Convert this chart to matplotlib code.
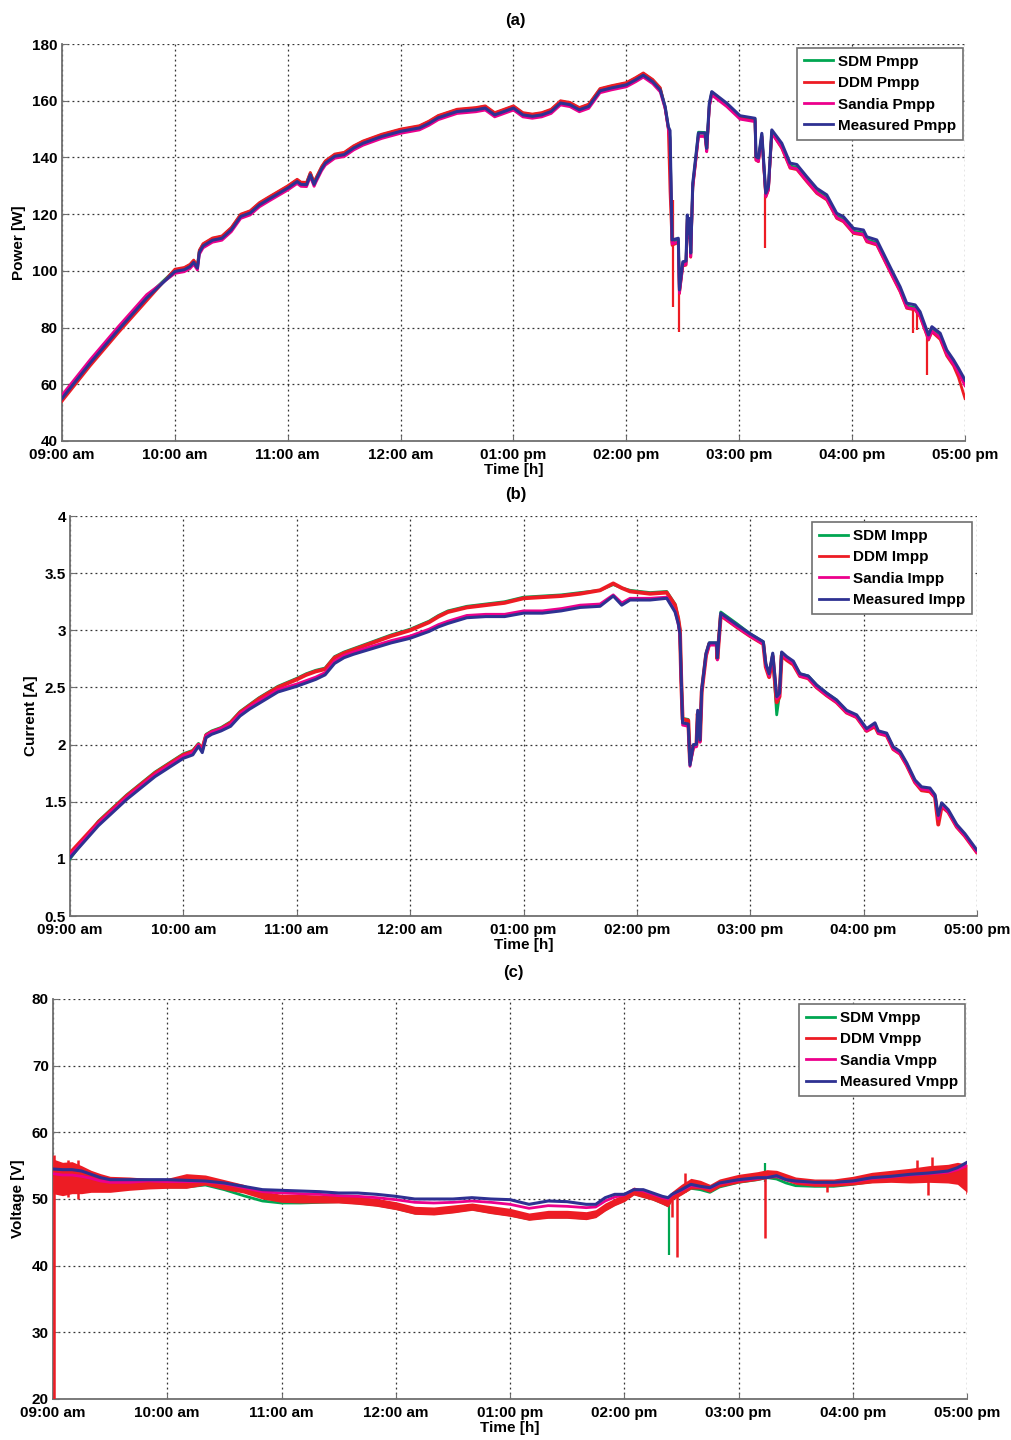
import numpy as np
import matplotlib
matplotlib.use('Agg')
import matplotlib.pyplot as plt
from matplotlib.lines import Line2D

plt.rcParams['font.family'] = ['Liberation Sans', 'DejaVu Sans']
plt.rcParams['font.weight'] = 'bold'

# ---------------- shared x axis ----------------
tick_hours = [9, 10, 11, 12, 13, 14, 15, 16, 17]
tick_labels = ['09:00 am', '10:00 am', '11:00 am', '12:00 am', '01:00 pm',
               '02:00 pm', '03:00 pm', '04:00 pm', '05:00 pm']

# ---------------- (a) Power, minutes after 09:00 ----------------
t_a = [0, 15, 30, 45, 60, 65, 68, 70, 72, 73, 75, 80, 85, 90, 95, 100, 105, 110, 120, 125,
       127, 130, 132, 134, 135, 138, 140, 145, 150, 155, 160, 170, 180, 190, 195, 200, 210, 220, 225, 230,
       240, 245, 250, 255, 260, 265, 270, 275, 280, 286, 292, 300, 305, 309, 314, 318, 320.6, 322.3, 323.2, 324.3,
       327.6, 328.2, 330, 331.7, 332.4, 333, 333.5, 334.2, 335.3, 337, 338.3, 341.8, 342.7, 344.1, 345.4, 353.4, 360.4, 368.4, 368.9, 370.2,
       372, 374.1, 375.5, 377.3, 382.6, 387, 390.6, 395.9, 401.2, 406.5, 411.8, 415.4, 420.7, 426, 427.8, 433.1, 437.5, 441.9, 445.5, 449,
       453.5, 456.1, 460.6, 462.4, 466.8, 470.3, 473.9, 476.5, 480]
meas_p = [55.0, 67.5, 79.2, 90.4, 99.8, 100.4, 101.5, 103.0, 101.0, 106.5, 108.8, 110.8, 111.5, 114.5, 119.2, 120.4, 123.3, 125.3, 129.2, 131.5,
          130.5, 130.4, 133.9, 130.5, 132.0, 136.0, 138.0, 140.4, 141.0, 143.3, 145.0, 147.4, 149.2, 150.4, 152.0, 154.0, 156.2, 156.8, 157.4, 155.0,
          157.4, 155.0, 154.5, 155.0, 156.2, 159.2, 158.6, 156.8, 158.0, 163.5, 164.5, 165.6, 167.4, 169.0, 166.7, 163.8, 157.9, 150.8, 149.5, 110.9,
          111.5, 93.3, 103.2, 103.5, 119.7, 113.2, 118.5, 106.3, 130.9, 140.9, 148.6, 148.6, 143.2, 159.1, 163.2, 159.1, 154.7, 153.8, 140.3, 139.8,
          148.5, 127.4, 129.7, 149.7, 145.0, 138.0, 137.5, 133.2, 129.1, 126.8, 120.3, 119.1, 115.0, 114.4, 112.0, 110.9, 105.0, 99.1, 94.4, 88.6,
          88.0, 85.6, 77.4, 80.3, 78.0, 72.1, 68.6, 65.7, 61.5]
sdm_p = [55.5, 68.0, 79.7, 90.9, 100.3, 101.0, 102.1, 103.6, 101.6, 107.1, 109.4, 111.4, 112.1, 115.1, 119.8, 121.0, 123.9, 125.9, 129.8, 132.1,
         131.1, 131.0, 134.5, 131.1, 132.6, 136.6, 138.6, 141.0, 141.6, 143.9, 145.6, 148.0, 149.8, 151.0, 152.6, 154.6, 156.8, 157.4, 158.0, 155.6,
         158.0, 155.6, 155.1, 155.6, 156.8, 159.8, 159.2, 157.4, 158.6, 164.1, 165.1, 166.2, 168.0, 169.6, 167.3, 164.4, 157.9, 150.8, 147.0, 110.0,
         111.0, 93.0, 102.7, 103.0, 119.2, 112.7, 118.0, 105.8, 130.4, 140.4, 148.9, 148.8, 143.0, 158.6, 163.0, 158.8, 154.4, 153.6, 139.8, 139.3,
         148.0, 126.9, 129.2, 149.2, 144.2, 137.0, 136.5, 132.2, 128.1, 125.8, 119.3, 118.1, 114.0, 113.4, 111.0, 109.9, 104.0, 98.1, 93.4, 87.6,
         87.0, 84.6, 76.4, 79.3, 77.0, 71.1, 67.6, 64.7, 60.5]
ddm_p = [54.0, 66.5, 78.2, 89.4, 100.6, 101.2, 102.3, 103.8, 101.8, 107.3, 109.6, 111.6, 112.3, 115.3, 120.0, 121.2, 124.1, 126.1, 130.0, 132.3,
         131.3, 131.2, 134.7, 131.3, 132.8, 136.8, 138.8, 141.2, 141.8, 144.1, 145.8, 148.2, 150.0, 151.2, 152.8, 154.8, 157.0, 157.6, 158.2, 155.8,
         158.2, 155.8, 155.3, 155.8, 157.0, 160.0, 159.4, 157.6, 158.8, 164.3, 165.3, 166.4, 168.2, 169.8, 167.5, 164.6, 157.4, 150.0, 128.0, 109.0,
         110.0, 92.0, 101.7, 102.0, 118.2, 111.7, 117.0, 104.8, 129.4, 139.4, 147.6, 147.6, 142.2, 158.1, 162.7, 158.3, 153.9, 153.0, 139.0, 138.5,
         147.5, 126.0, 128.5, 148.7, 143.2, 136.2, 135.7, 131.4, 127.3, 125.0, 118.5, 117.3, 113.2, 112.6, 110.2, 109.1, 103.2, 97.3, 92.6, 86.8,
         86.2, 83.8, 75.6, 78.5, 75.8, 70.0, 66.5, 62.5, 55.0]
sandia_p = [56.2, 68.7, 80.4, 91.6, 99.1, 99.7, 100.8, 102.3, 100.3, 105.8, 108.1, 110.1, 110.8, 113.8, 118.5, 119.7, 122.6, 124.6, 128.5, 130.8,
            129.8, 129.7, 133.2, 129.8, 131.3, 135.3, 137.3, 139.7, 140.3, 142.6, 144.3, 146.7, 148.5, 149.7, 151.3, 153.3, 155.5, 156.1, 156.7, 154.3,
            156.7, 154.3, 153.8, 154.3, 155.5, 158.5, 157.9, 156.1, 157.3, 162.8, 163.8, 164.9, 166.7, 168.3, 166.0, 163.1, 157.2, 150.2, 146.0, 109.5,
            110.3, 92.1, 102.0, 102.3, 118.5, 112.0, 117.3, 105.1, 129.7, 139.7, 147.4, 147.4, 142.0, 157.9, 162.0, 157.9, 153.5, 152.6, 139.1, 138.6,
            147.3, 126.2, 128.5, 148.5, 143.5, 136.5, 136.0, 131.7, 127.6, 125.3, 118.8, 117.6, 113.5, 112.9, 110.5, 109.4, 103.5, 97.6, 92.9, 87.1,
            86.5, 84.1, 75.9, 78.8, 76.5, 70.6, 67.1, 64.2, 59.5]
# DDM short spikes (time, low, high)
ddm_p_spk_t = [324.6, 328.2, 373.7, 452.6, 454.4, 459.7]
ddm_p_spk_lo = [87.4, 78.6, 108.0, 78.0, 79.2, 63.3]
ddm_p_spk_hi = [125.0, 100.0, 127.0, 87.0, 86.0, 77.0]

# ---------------- (b) Current ----------------
t_b = [0, 15, 30, 45, 60, 65, 68, 70, 72, 75, 80, 85, 90, 95, 100, 105, 110, 120, 125, 130,
       135, 140, 145, 150, 160, 170, 180, 190, 195, 200, 210, 220, 230, 240, 250, 260, 270, 280.5, 287.5, 292,
       296.4, 307, 315.8, 320.2, 321.9, 322.8, 323.5, 324.2, 327.2, 328.1, 329.9, 331.5, 332.2, 333.4, 334.3, 336.6, 338.3, 342.2, 342.6, 344.4,
       352.8, 359.9, 366.9, 368.2, 370, 371.9, 374.0, 375.5, 376.6, 379.3, 382.8, 386.3, 390.7, 395.2, 400.5, 405.7, 411.0, 416.3, 421.6, 426.0,
       427.8, 432.2, 435.7, 439.3, 442.8, 447.2, 450.7, 455.1, 457.8, 459.5, 461.3, 464.8, 469.3, 473.6, 479.8]
meas_i = [1.01, 1.29, 1.52, 1.72, 1.88, 1.91, 1.985, 1.93, 2.06, 2.09, 2.12, 2.16, 2.25, 2.31, 2.36, 2.41, 2.46, 2.51, 2.54, 2.57,
          2.61, 2.71, 2.76, 2.79, 2.84, 2.89, 2.93, 2.99, 3.03, 3.06, 3.11, 3.12, 3.12, 3.15, 3.15, 3.17, 3.20, 3.21, 3.30, 3.22,
          3.265, 3.265, 3.28, 3.16, 3.06, 2.97, 2.57, 2.19, 2.18, 1.82, 2.00, 2.00, 2.30, 2.04, 2.48, 2.80, 2.89, 2.89, 2.76, 3.15,
          3.05, 2.97, 2.90, 2.71, 2.62, 2.80, 2.42, 2.45, 2.81, 2.77, 2.73, 2.62, 2.60, 2.52, 2.45, 2.39, 2.30, 2.26, 2.14, 2.19,
          2.12, 2.10, 1.98, 1.94, 1.84, 1.69, 1.63, 1.62, 1.56, 1.38, 1.49, 1.43, 1.30, 1.22, 1.08]
sdm_i = [1.00, 1.33, 1.56, 1.76, 1.92, 1.95, 2.01, 1.97, 2.09, 2.12, 2.15, 2.20, 2.29, 2.35, 2.41, 2.46, 2.51, 2.58, 2.62, 2.65,
         2.67, 2.77, 2.81, 2.84, 2.90, 2.96, 3.01, 3.08, 3.13, 3.17, 3.21, 3.23, 3.25, 3.29, 3.30, 3.31, 3.33, 3.35, 3.40, 3.37,
         3.35, 3.33, 3.34, 3.23, 3.11, 3.01, 2.56, 2.23, 2.22, 1.86, 1.99, 2.00, 2.28, 2.04, 2.47, 2.79, 2.89, 2.89, 2.76, 3.16,
         3.06, 2.97, 2.90, 2.70, 2.61, 2.79, 2.26, 2.44, 2.80, 2.76, 2.72, 2.62, 2.60, 2.52, 2.45, 2.39, 2.29, 2.25, 2.13, 2.18,
         2.11, 2.09, 1.97, 1.93, 1.83, 1.68, 1.61, 1.60, 1.55, 1.33, 1.47, 1.42, 1.29, 1.21, 1.07]
ddm_i = [1.05, 1.32, 1.55, 1.75, 1.91, 1.94, 2.00, 1.96, 2.08, 2.11, 2.14, 2.19, 2.28, 2.34, 2.40, 2.45, 2.50, 2.57, 2.61, 2.64,
         2.66, 2.76, 2.80, 2.83, 2.89, 2.95, 3.00, 3.07, 3.12, 3.16, 3.20, 3.22, 3.24, 3.28, 3.29, 3.30, 3.32, 3.35, 3.41, 3.37,
         3.34, 3.32, 3.33, 3.22, 3.10, 3.00, 2.55, 2.22, 2.21, 1.85, 1.98, 1.99, 2.27, 2.03, 2.46, 2.78, 2.88, 2.88, 2.75, 3.13,
         3.03, 2.95, 2.88, 2.68, 2.59, 2.77, 2.37, 2.42, 2.78, 2.74, 2.70, 2.60, 2.58, 2.50, 2.43, 2.37, 2.28, 2.24, 2.12, 2.16,
         2.10, 2.08, 1.96, 1.92, 1.82, 1.67, 1.60, 1.59, 1.54, 1.30, 1.46, 1.41, 1.28, 1.20, 1.06]
sandia_i = [1.03, 1.31, 1.54, 1.74, 1.90, 1.93, 2.00, 1.95, 2.08, 2.11, 2.14, 2.18, 2.27, 2.33, 2.38, 2.43, 2.48, 2.53, 2.56, 2.59,
            2.63, 2.73, 2.78, 2.81, 2.86, 2.91, 2.95, 3.01, 3.05, 3.08, 3.13, 3.14, 3.14, 3.17, 3.17, 3.19, 3.22, 3.23, 3.31, 3.24,
            3.28, 3.28, 3.29, 3.17, 3.05, 2.95, 2.55, 2.17, 2.16, 1.81, 1.98, 1.98, 2.28, 2.02, 2.46, 2.78, 2.87, 2.87, 2.74, 3.13,
            3.03, 2.95, 2.88, 2.69, 2.60, 2.78, 2.40, 2.43, 2.79, 2.75, 2.71, 2.60, 2.58, 2.50, 2.43, 2.37, 2.28, 2.24, 2.12, 2.17,
            2.10, 2.08, 1.96, 1.92, 1.82, 1.67, 1.61, 1.60, 1.54, 1.35, 1.47, 1.41, 1.28, 1.20, 1.06]

# ---------------- (c) Voltage ----------------
t_c = [0, 5, 10, 15, 20, 25, 30, 40, 50, 60, 70, 80, 90, 100, 110, 120, 130, 140, 150, 160,
       170, 180, 190, 200, 210, 220, 230, 240, 250, 260, 270, 280, 285, 290, 295, 300, 305, 310, 315, 320,
       323, 325, 330, 335, 340, 345, 350, 360, 370, 375, 380, 385, 390, 400, 410, 420, 430, 440, 450, 460,
       470, 475, 480]
meas_v = [54.5, 54.4, 54.4, 54.2, 53.7, 53.2, 52.9, 52.9, 52.9, 52.9, 52.8, 52.7, 52.4, 51.9, 51.4, 51.3, 51.2, 51.1, 50.9, 50.9,
          50.7, 50.4, 50.0, 50.0, 50.0, 50.2, 50.0, 49.9, 49.2, 49.7, 49.6, 49.2, 49.2, 50.2, 50.7, 50.7, 51.4, 51.4, 50.9, 50.4,
          50.2, 50.7, 51.4, 52.2, 51.9, 51.7, 52.4, 52.9, 53.2, 53.2, 53.5, 52.9, 52.7, 52.5, 52.5, 52.7, 53.2, 53.4, 53.7, 53.9,
          54.2, 54.7, 55.5]
ddm_v = [53.5, 53.0, 53.0, 52.8, 52.5, 52.2, 52.0, 52.0, 52.3, 52.4, 52.7, 52.9, 52.2, 51.6, 50.6, 50.1, 50.0, 50.0, 50.0, 49.8,
         49.5, 49.0, 48.3, 48.2, 48.5, 48.9, 48.4, 48.0, 47.3, 47.7, 47.7, 47.5, 47.8, 48.8, 49.6, 50.2, 51.2, 50.8, 50.4, 49.8,
         49.5, 50.5, 51.4, 52.3, 52.2, 51.6, 52.4, 53.0, 53.4, 53.8, 53.8, 53.3, 52.8, 52.5, 52.5, 52.8, 53.2, 53.4, 53.6, 53.8,
         53.9, 54.0, 53.2]
ddm_v_hi = [56.0, 55.5, 55.6, 55.0, 54.3, 53.8, 53.4, 53.3, 53.1, 53.1, 53.8, 53.6, 52.9, 52.2, 51.2, 50.7, 50.7, 50.6, 50.6, 50.4,
            50.1, 49.6, 48.9, 48.8, 49.1, 49.4, 49.0, 48.6, 47.9, 48.3, 48.3, 48.1, 48.4, 49.4, 50.1, 50.8, 51.8, 51.4, 51.0, 50.4,
            50.1, 51.1, 52.2, 53.1, 52.8, 52.2, 53.0, 53.7, 54.1, 54.4, 54.3, 53.8, 53.3, 53.0, 53.0, 53.4, 54.0, 54.3, 54.6, 55.0,
            55.2, 55.5, 55.2]
ddm_v_lo = [50.8, 50.5, 50.8, 50.8, 51.0, 51.0, 51.0, 51.3, 51.5, 51.6, 51.6, 52.1, 51.4, 50.9, 50.0, 49.5, 49.4, 49.4, 49.4, 49.2,
            48.9, 48.4, 47.7, 47.6, 47.9, 48.3, 47.8, 47.4, 46.8, 47.1, 47.1, 46.9, 47.2, 48.2, 49.0, 49.6, 50.6, 50.2, 49.8, 49.2,
            48.8, 49.8, 50.6, 51.5, 51.5, 51.0, 51.8, 52.4, 52.8, 53.1, 53.2, 52.7, 52.2, 51.9, 51.9, 52.1, 52.4, 52.5, 52.4, 52.5,
            52.4, 52.2, 51.0]
sdm_v = [51.2, 51.0, 51.2, 51.2, 51.3, 51.3, 51.3, 51.6, 51.8, 51.8, 51.8, 52.1, 51.4, 50.5, 49.7, 49.4, 49.4, 49.5, 49.6, 49.4,
         49.1, 48.6, 47.9, 47.8, 48.1, 48.5, 48.0, 47.6, 47.0, 47.3, 47.3, 47.1, 47.4, 48.4, 49.2, 49.8, 50.8, 50.4, 50.0, 49.4,
         49.0, 50.0, 50.8, 51.6, 51.4, 51.0, 51.8, 52.5, 52.9, 53.2, 53.0, 52.4, 52.0, 51.9, 51.9, 52.2, 52.6, 52.8, 52.9, 53.2,
         53.4, 53.6, 53.4]
sandia_v = [53.8, 53.6, 53.6, 53.4, 53.1, 52.7, 52.5, 52.5, 52.7, 52.6, 52.6, 52.6, 52.3, 51.7, 51.1, 50.9, 50.8, 50.7, 50.5, 50.4,
            50.2, 49.9, 49.5, 49.4, 49.5, 49.7, 49.5, 49.2, 48.6, 49.0, 48.9, 48.7, 48.8, 49.7, 50.3, 50.6, 51.4, 51.2, 50.7, 50.2,
            50.0, 50.6, 51.3, 52.0, 51.8, 51.6, 52.3, 52.8, 53.1, 53.3, 53.4, 52.9, 52.6, 52.4, 52.4, 52.6, 53.1, 53.3, 53.6, 53.8,
            54.0, 54.4, 55.0]
ddm_v_spk_t = [0.4, 8, 13, 324.9, 327.7, 331.9, 373.9, 406.3, 453.6, 459.7, 461.5, 479.8]
ddm_v_spk_lo = [20.0, 50.3, 50.0, 47.3, 41.3, 51.0, 44.1, 51.1, 53.5, 50.6, 53.5, 50.8]
ddm_v_spk_hi = [56.6, 55.9, 55.8, 50.5, 50.5, 53.9, 53.5, 52.5, 55.9, 53.0, 56.3, 53.0]
sdm_v_spk_t = [323.7, 373.9]
sdm_v_spk_lo = [41.6, 52.5]
sdm_v_spk_hi = [50.0, 55.35]

# ---------------- styling ----------------
C_SDM = '#00a651'
C_DDM = '#ed1c24'
C_SAN = '#ec008c'
C_MEA = '#2e3192'


def hrs(m):
    return 9 + np.asarray(m, dtype=float) / 60.0


fig = plt.figure(figsize=(10.12, 14.4), dpi=100)
W, H = 1012.0, 1440.0


def make_ax(left, right, top, bottom):
    return fig.add_axes([left / W, 1 - bottom / H, (right - left) / W, (bottom - top) / H])


def style(ax, ylim, yticks, yticklabels, ylabel, ylab_x):
    ax.set_xlim(9, 17)
    ax.set_ylim(*ylim)
    ax.set_xticks(tick_hours)
    ax.set_xticklabels(tick_labels)
    ax.set_yticks(yticks)
    ax.set_yticklabels(yticklabels)
    ax.grid(True, linestyle=(0, (1.5, 2.5)), color='#333333', linewidth=0.9)
    ax.set_axisbelow(True)
    for s in ['top', 'right']:
        ax.spines[s].set_visible(False)
    for s in ['left', 'bottom']:
        ax.spines[s].set_color('#707070')
        ax.spines[s].set_linewidth(1.3)
        ax.spines[s].set_zorder(1)
    ax.tick_params(direction='in', length=4, color='#707070', labelcolor='black',
                   labelsize=11, pad=3)
    ax.tick_params(axis='x', pad=5)
    for lab in ax.get_xticklabels() + ax.get_yticklabels():
        lab.set_fontweight('bold')
    ax.set_ylabel(ylabel, fontsize=11, fontweight='bold')
    ax.yaxis.set_label_coords(ylab_x, 0.5)
    ax.set_xlabel('Time [h]', fontsize=11, fontweight='bold')
    ax.xaxis.set_label_coords(0.5, -0.055)


def legend(ax, labels, anchor):
    handles = [Line2D([], [], color=c, lw=2.0) for c in (C_SDM, C_DDM, C_SAN, C_MEA)]
    leg = ax.legend(handles, labels, loc='upper right', bbox_to_anchor=anchor, fontsize=11,
                    fancybox=False, framealpha=1, edgecolor='#707070',
                    handlelength=1.9, handletextpad=0.35, labelspacing=0.48,
                    borderpad=0.45, borderaxespad=0)
    leg.get_frame().set_linewidth(1.2)
    for t in leg.get_texts():
        t.set_fontweight('bold')
    leg.set_zorder(10)


# ---- (a)
ax1 = make_ax(62, 965, 44, 441)
ax1.plot(hrs(t_a), sdm_p, color=C_SDM, lw=2.0, zorder=2)
ax1.plot(hrs(t_a), ddm_p, color=C_DDM, lw=2.0, zorder=3)
ax1.plot(hrs(t_a), sandia_p, color=C_SAN, lw=2.0, zorder=4)
ax1.plot(hrs(t_a), meas_p, color=C_MEA, lw=2.2, zorder=5)
ax1.vlines(hrs(ddm_p_spk_t), ddm_p_spk_lo, ddm_p_spk_hi, color=C_DDM, lw=1.6, zorder=3)
style(ax1, (40, 180), list(range(40, 181, 20)), [str(v) for v in range(40, 181, 20)],
      'Power [W]', -0.040)
legend(ax1, ['SDM Pmpp', 'DDM Pmpp', 'Sandia Pmpp', 'Measured Pmpp'], (0.998, 0.99))
fig.text(515 / W, 1 - 20 / H, '(a)', ha='center', va='center', fontsize=12, fontweight='bold')

# ---- (b)
ax2 = make_ax(70, 977, 516, 916)
ax2.plot(hrs(t_b), sdm_i, color=C_SDM, lw=2.0, zorder=2)
ax2.plot(hrs(t_b), ddm_i, color=C_DDM, lw=2.8, zorder=3)
ax2.plot(hrs(t_b), sandia_i, color=C_SAN, lw=2.0, zorder=4)
ax2.plot(hrs(t_b), meas_i, color=C_MEA, lw=2.2, zorder=5)
b_ticks = [0.5, 1, 1.5, 2, 2.5, 3, 3.5, 4]
style(ax2, (0.5, 4), b_ticks, ['0.5', '1', '1.5', '2', '2.5', '3', '3.5', '4'],
      'Current [A]', -0.035)
legend(ax2, ['SDM Impp', 'DDM Impp', 'Sandia Impp', 'Measured Impp'], (0.9945, 0.985))
fig.text(516 / W, 1 - 495 / H, '(b)', ha='center', va='center', fontsize=12, fontweight='bold')

# ---- (c)
ax3 = make_ax(53, 967, 999, 1399)
ax3.plot(hrs(t_c), sdm_v, color=C_SDM, lw=2.0, zorder=2)
ax3.vlines(hrs(sdm_v_spk_t), sdm_v_spk_lo, sdm_v_spk_hi, color=C_SDM, lw=1.6, zorder=2)
ax3.fill_between(hrs(t_c), ddm_v_lo, ddm_v_hi, color=C_DDM, lw=0, zorder=3)
ax3.plot(hrs(t_c), ddm_v, color=C_DDM, lw=1.5, zorder=3)
ax3.vlines(hrs(ddm_v_spk_t), ddm_v_spk_lo, ddm_v_spk_hi, color=C_DDM, lw=1.8, zorder=3)
ax3.plot(hrs(t_c), sandia_v, color=C_SAN, lw=2.0, zorder=4)
ax3.plot(hrs(t_c), meas_v, color=C_MEA, lw=2.2, zorder=5)
style(ax3, (20, 80), list(range(20, 81, 10)), [str(v) for v in range(20, 81, 10)],
      'Voltage [V]', -0.031)
legend(ax3, ['SDM Vmpp', 'DDM Vmpp', 'Sandia Vmpp', 'Measured Vmpp'], (0.998, 0.9875))
fig.text(513 / W, 1 - 973 / H, '(c)', ha='center', va='center', fontsize=12, fontweight='bold')

fig.savefig('out.png', dpi=100)
